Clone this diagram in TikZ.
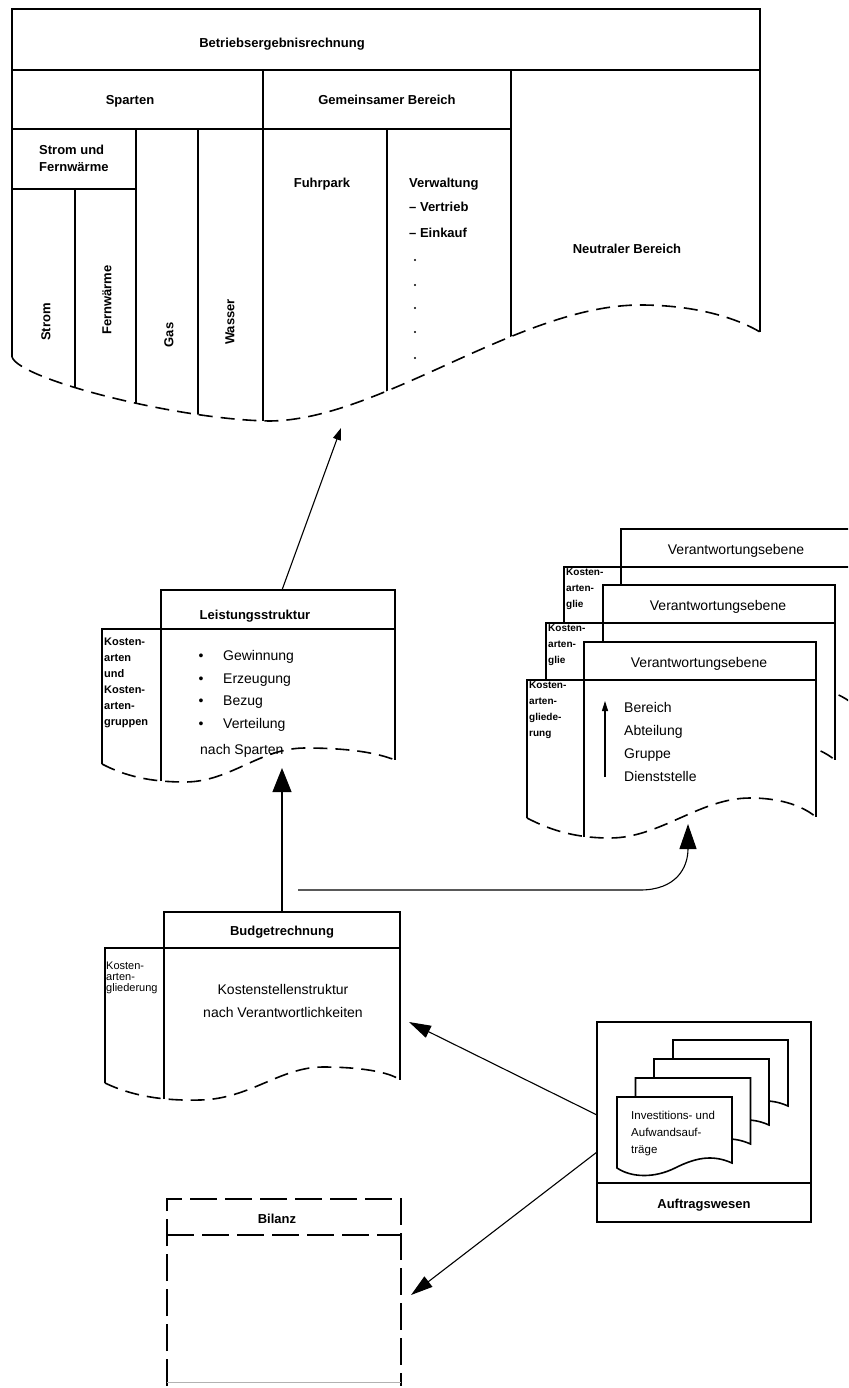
\documentclass[tikz,border=0pt]{standalone}
\usepackage{fontspec}
\setmainfont{Liberation Sans}
\usetikzlibrary{arrows.meta}
\newcommand\vsheet[3]{%
\begin{scope}[shift={#1}]
 \fill[white] (816,817) -- (816,642) -- (584,642) -- (584,680) -- (527,680) -- (527,818) [vwave] -- cycle;
 \draw[ln] (584,837) -- (584,642) -- (816,642) -- (816,817);
 \draw[ln] (527,818) -- (527,680) -- (816,680);
 \draw[wav] (527,818) [vwave];
 \node[tx, anchor=base] (vt#2) at (699,667) {Verantwortungsebene};
 \node[tbs, anchor=north west, align=left] (vk#2) at (529,681) {#3};
\end{scope}}
\newcommand\asheet[1]{%
 \draw[ln, fill=white, shift={#1}] (617,1168) -- (617,1097) -- (732,1097) -- (732,1163) .. controls (712,1154) and (695,1158) .. (675,1168) .. controls (655,1178) and (632,1178) .. (617,1168) -- cycle;}
\begin{document}
\begin{tikzpicture}[x=1pt,y=-1pt,
  ln/.style={line width=1.6pt},
  wav/.style={line width=1.6pt, dash pattern=on 14pt off 8pt},
  dbox/.style={line width=1.6pt, dash pattern=on 27pt off 8pt},
  thinarr/.style={line width=1.1pt, -{Triangle[length=12pt,width=8pt]}},
  tinyarr/.style={line width=1.1pt, -{Triangle[length=10pt,width=6pt]}},
  bigarr/.style={line width=1.1pt, -{Triangle[length=24pt,width=19pt]}},
  curvarr/.style={line width=1.1pt, -{Triangle[length=25pt,width=17pt]}},
  midarr/.style={line width=1.1pt, -{Triangle[length=22pt,width=13pt]}},
  hb/.style={font=\fontsize{13}{17}\selectfont\bfseries, inner sep=0pt},
  tx/.style={font=\fontsize{14}{16}\selectfont, inner sep=0pt},
  tbl/.style={font=\fontsize{11}{16}\selectfont\bfseries, inner sep=0pt},
  tbs/.style={font=\fontsize{10}{16.3}\selectfont\bfseries, inner sep=0pt},
  tbb/.style={font=\fontsize{11}{11}\selectfont, inner sep=0pt},
  ts/.style={font=\fontsize{11.5}{17}\selectfont, inner sep=0pt},
  topwave/.style={insert path={.. controls (20,380) and (180,420) .. (270,421) .. controls (380,420) and (520,305) .. (640,305) .. controls (700,305) and (740,320) .. (760,332)}},
  vwave/.style={insert path={.. controls (550,830) and (575,838) .. (610,838) .. controls (660,838) and (700,798) .. (750,798) .. controls (785,798) and (805,808) .. (816,817)}}
]
\fill[white] (0,0) rectangle (848,1388);
\useasboundingbox (0,0) rectangle (848,1388);
\begin{scope}
\clip (0,0) rectangle (848,1388);

% ---------- top block ----------
\draw[ln] (12,357) -- (12,9) -- (760,9) -- (760,332);
\draw[ln] (12,70) -- (760,70);
\draw[ln] (12,129) -- (511,129);
\draw[ln] (12,189) -- (136,189);
\begin{scope}
\clip (760,0) -- (12,0) -- (12,357) [topwave] -- cycle;
\draw[ln] (263,70) -- (263,440) (511,70) -- (511,440) (136,129) -- (136,440)
  (198,129) -- (198,440) (387,129) -- (387,440) (75,189) -- (75,440);
\end{scope}
\draw[wav] (12,357) [topwave];
\node[hb, anchor=base] (ber) at (282,48) {Betriebsergebnisrechnung};
\node[hb, anchor=base] (spa) at (130,105) {Sparten};
\node[hb, anchor=base] (gem) at (387,105) {Gemeinsamer Bereich};
\node[hb, anchor=north west, align=left] (suf) at (39,145) {Strom und\\Fernwärme};
\node[hb, anchor=base] (fuh) at (322,188) {Fuhrpark};
\node[hb, anchor=base west] (ver) at (409,188) {Verwaltung};
\node[hb, anchor=base west] (vtr) at (409,212) {– Vertrieb};
\node[hb, anchor=base west] (ein) at (409,237) {– Einkauf};
\foreach \yy in {260,285,308,332,358} \fill (415,\yy) circle (1.2);
\node[hb, anchor=base] (neu) at (627,253) {Neutraler Bereich};
\node[hb, rotate=90] (str) at (46,322) {Strom};
\node[hb, rotate=90] (fer) at (107,300) {Fernwärme};
\node[hb, rotate=90] (gas) at (169,335) {Gas};
\node[hb, rotate=90] (was) at (230,322) {Wasser};

% ---------- Leistungsstruktur ----------
\draw[ln] (161,781) -- (161,590) -- (395,590) -- (395,760);
\draw[ln] (102,764) -- (102,629) -- (395,629);
\draw[wav] (102,764) .. controls (125,776) and (150,782) .. (185,782) .. controls (230,782) and (260,748) .. (305,748) .. controls (345,748) and (375,752) .. (395,760);
\node[hb, anchor=base] (ls) at (255,619) {Leistungsstruktur};
\node[tbl, anchor=north west, align=left] (lk) at (104,638) {Kosten-\\arten\\und\\Kosten-\\arten-\\gruppen};
\foreach \yy/\tt in {660/Gewinnung,683/Erzeugung,705/Bezug,728/Verteilung}{
  \node[tx, anchor=base] at (201,\yy) {•};
  \node[tx, anchor=base west] at (223,\yy) {\tt};}
\node[tx, anchor=base west] (ns) at (200,754) {nach Sparten};

% ---------- Verantwortungsebene stack ----------
\vsheet{(37,-113)}{c}{Kosten-\\arten-\\glie}
\vsheet{(19,-57)}{b}{Kosten-\\arten-\\glie}
\vsheet{(0,0)}{a}{Kosten-\\arten-\\gliede-\\rung}
\node[tx, anchor=base west] (vb1) at (624,712) {Bereich};
\node[tx, anchor=base west] (vb2) at (624,735) {Abteilung};
\node[tx, anchor=base west] (vb3) at (624,758) {Gruppe};
\node[tx, anchor=base west] (vb4) at (624,781) {Dienststelle};
\coordinate (hlo) at (605,777);
\coordinate (hhi) at (605,701);
\draw[tinyarr] (hlo) -- (hhi);

% ---------- Budgetrechnung ----------
\draw[ln] (164,1099) -- (164,912) -- (400,912) -- (400,1080);
\draw[ln] (105,1083) -- (105,948) -- (400,948);
\draw[wav] (105,1083) .. controls (130,1095) and (160,1101) .. (200,1100) .. controls (250,1099) and (280,1067) .. (323,1067) .. controls (360,1067) and (390,1072) .. (400,1080);
\node[hb, anchor=base] (bg) at (282,935) {Budgetrechnung};
\node[tbb, anchor=north west, align=left] (bk) at (106,962) {Kosten-\\arten-\\gliederung};
\node[tx, anchor=base] (ks) at (283,994) {Kostenstellenstruktur};
\node[tx, anchor=base] (nv) at (283,1017) {nach Verantwortlichkeiten};

% ---------- Auftragswesen ----------
\draw[ln] (597,1022) rectangle (811,1222);
\draw[ln] (597,1183) -- (811,1183);
\asheet{(56,-57)}
\asheet{(37,-38)}
\asheet{(18.5,-19)}
\asheet{(0,0)}
\node[ts, anchor=north west, align=left] (inv) at (631,1111) {Investitions- und\\Aufwandsauf-\\träge};
\node[hb, anchor=base] (auf) at (704,1208) {Auftragswesen};

% ---------- Bilanz ----------
\draw[dbox] (167,1386) -- (167,1199) -- (401,1199) -- (401,1386);
\draw[dbox] (167,1235) -- (401,1235);
\draw[gray!60, line width=0.6pt] (167,1382) -- (401,1382);
\node[hb, anchor=base] (bil) at (277,1223) {Bilanz};

% ---------- connectors ----------
\coordinate (lsTop) at (282,590);
\coordinate (beBot) at (341,428);
\draw[thinarr] (lsTop) -- (beBot);
\coordinate (bgTop) at (282,912);
\coordinate (lsBot) at (282,768);
\draw[bigarr] (bgTop) -- (lsBot);
\coordinate (brStart) at (298,890);
\coordinate (vaBot) at (688,824);
\draw[curvarr] (brStart) -- (640,890) .. controls (676,890) and (688,868) .. (vaBot);
\coordinate (awA) at (597,1115);
\coordinate (bgR) at (409,1022);
\draw[midarr] (awA) -- (bgR);
\coordinate (awB) at (597,1152);
\coordinate (biR) at (411,1295);
\draw[midarr] (awB) -- (biR);
\end{scope}
\end{tikzpicture}
\end{document}
